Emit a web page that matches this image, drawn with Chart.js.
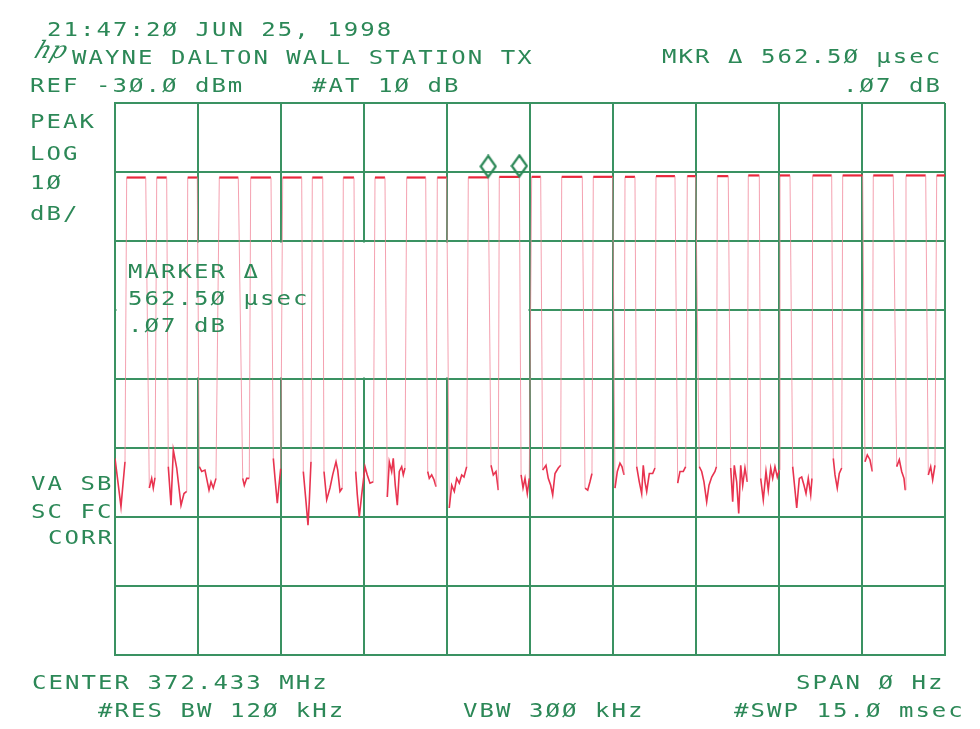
<!DOCTYPE html>
<html>
<head>
<meta charset="utf-8">
<title>Wayne Dalton Wall Station TX</title>
<script src="https://cdn.jsdelivr.net/npm/chart.js@4/dist/chart.umd.min.js"></script>
<style>
  body { margin: 0; background: #fff; }
  #wrap { position: relative; width: 980px; height: 729px; overflow: hidden; }
  #chart { position: absolute; left: 0; top: 0; }
  .lbl {
    position: absolute;
    font-family: "DejaVu Sans Mono", monospace;
    font-size: 20px;
    line-height: 20px;
    letter-spacing: 1.7px;
    color: #2c8857;
    white-space: pre;
    transform: scaleX(1.2);
    transform-origin: 0 0;
  }
  .logo {
    position: absolute;
    font-family: "DejaVu Serif", serif;
    font-style: italic;
    font-size: 24px;
    line-height: 24px;
    color: #2c8857;
    transform: skewX(-20deg);
  }
</style>
</head>
<body>
<div id="wrap">
  <canvas id="chart" width="980" height="729"></canvas>
</div>
<script>
// Trace: zero-span sweep, 15 ms over 10 divisions, REF -30 dBm, 10 dB/div
// Pulse edges (ms) and pulse top level (dBm)
const pulseRise = [0.211, 0.754, 1.314, 1.885, 2.452, 3.031, 3.566, 4.126, 4.699,
                   5.272, 5.825, 6.385, 6.945, 7.530, 8.073, 8.644, 9.217, 9.777,
                   10.343, 10.885, 11.445, 12.018, 12.609, 13.151, 13.704, 14.295, 14.850];
const pulseFall = [0.555, 0.934, 1.487, 2.228, 2.819, 3.374, 3.754, 4.319, 4.879,
                   5.615, 5.994, 6.745, 7.3075, 7.693, 8.445, 8.994, 9.397, 10.120,
                   10.494, 11.083, 11.644, 12.199, 12.952, 13.512, 14.065, 14.651, 15.0];
const pulseTop = [-40.8, -40.8, -40.8, -40.8, -40.8, -40.8, -40.8, -40.8, -40.8,
                  -40.8, -40.8, -40.78, -40.71, -40.7, -40.7, -40.7, -40.7, -40.6,
                  -40.6, -40.6, -40.5, -40.5, -40.5, -40.5, -40.5, -40.5, -40.5];

// Noise floor between pulses (ms, dBm), one line per gap
const noiseMs = [
  0.000, 0.108, 0.181,
  0.620, 0.663, 0.692, 0.723,
  0.963, 1.012, 1.054, 1.115, 1.193, 1.247, 1.296,
  1.523, 1.567, 1.626, 1.699, 1.735, 1.776, 1.825,
  2.308, 2.337, 2.380, 2.427,
  2.861, 2.892, 2.933, 2.964, 2.995,
  3.403, 3.452, 3.488, 3.511, 3.542,
  3.777, 3.826, 3.885, 3.934, 3.994, 4.025, 4.066, 4.108,
  4.350, 4.379, 4.415, 4.458, 4.518, 4.559, 4.608, 4.668,
  4.921, 4.957, 5.000, 5.029, 5.065, 5.102, 5.138, 5.181, 5.210, 5.241,
  5.651, 5.680, 5.723, 5.765, 5.801,
  6.041, 6.085, 6.132, 6.175, 6.222, 6.266, 6.307, 6.356,
  6.795, 6.837, 6.885, 6.927,
  7.339, 7.374, 7.410, 7.451, 7.487,
  7.729, 7.789, 7.830, 7.874, 7.910, 7.952, 8.011, 8.055,
  8.494, 8.543, 8.584, 8.620,
  9.036, 9.078, 9.126, 9.162, 9.199,
  9.428, 9.475, 9.518, 9.547, 9.578, 9.609, 9.656, 9.717, 9.759,
  10.169, 10.211, 10.270, 10.314,
  10.559, 10.603, 10.644, 10.693, 10.735, 10.784, 10.843, 10.870,
  11.127, 11.163, 11.192, 11.235, 11.272, 11.308, 11.344, 11.385, 11.427,
  11.669, 11.716, 11.765, 11.806, 11.850, 11.886, 11.927, 11.969, 12.005,
  12.247, 12.289, 12.320, 12.367, 12.410, 12.452, 12.488, 12.529, 12.573, 12.596,
  12.981, 13.012, 13.053, 13.089, 13.133,
  13.554, 13.596, 13.644, 13.686,
  14.127, 14.174, 14.217, 14.259, 14.282,
  14.698, 14.741, 14.777, 14.819
];
const noiseDbm = [
  -81.5, -88.5, -82.0,
  -85.8, -84.4, -85.8, -84.3,
  -82.7, -88.3, -80.3, -82.9, -88.3, -86.6, -86.3,
  -82.7, -83.4, -83.2, -86.1, -84.9, -85.8, -84.4,
  -84.4, -85.4, -84.4, -84.4,
  -81.5, -84.4, -88.0, -85.4, -83.0,
  -83.4, -87.8, -91.2, -87.8, -82.0,
  -83.4, -87.5, -85.8, -83.9, -82.0, -83.2, -86.3, -85.8,
  -83.4, -86.8, -90.0, -86.8, -82.7, -83.9, -85.1, -84.9,
  -87.1, -82.0, -83.4, -81.5, -85.4, -88.3, -83.4, -82.7, -83.9, -82.9,
  -83.4, -84.4, -83.9, -84.6, -85.6,
  -88.7, -85.4, -86.3, -84.4, -85.1, -83.9, -84.2, -82.7,
  -82.5, -83.9, -83.4, -86.1,
  -83.9, -85.8, -84.4, -86.6, -84.4,
  -83.2, -82.5, -84.4, -85.4, -86.8, -83.7, -82.9, -82.5,
  -85.8, -86.1, -84.9, -83.7,
  -85.8, -83.4, -82.2, -82.7, -83.9,
  -82.7, -84.9, -86.6, -82.5, -84.9, -86.3, -83.7, -83.7, -82.9,
  -85.1, -83.4, -83.4, -82.7,
  -82.7, -83.4, -84.9, -87.8, -85.4, -84.2, -83.4, -82.7,
  -82.9, -87.8, -82.5, -84.9, -89.5, -82.5, -85.4, -82.9, -84.9,
  -84.4, -87.5, -83.4, -86.1, -82.9, -84.4, -82.7, -84.2, -83.2,
  -82.7, -86.1, -88.7, -84.4, -84.2, -85.4, -86.6, -84.4, -86.8, -84.4,
  -81.5, -83.9, -85.8, -83.7, -82.9,
  -82.0, -81.0, -81.7, -83.4,
  -82.7, -81.7, -83.4, -84.4, -86.1,
  -83.9, -82.7, -84.6, -82.5
];

// Delta markers (ms, dBm)
const markerMs = [6.745, 7.3075];
const markerDbm = [-40.78, -40.71];

const GREEN = '#2c8857';
const GRID = '#3a9262';

// Texts printed around the graticule: [text, left px, cap top px]
const labels = [
  ['21:47:2Ø JUN 25, 1998', 47, 21],
  ['WAYNE DALTON WALL STATION TX', 72, 49],
  ['MKR Δ 562.5Ø µsec', 662, 48],
  ['REF -3Ø.Ø dBm', 30, 77],
  ['#AT 1Ø dB', 312, 77],
  ['.Ø7 dB', 843, 77],
  ['PEAK', 30, 113],
  ['LOG', 30, 145],
  ['1Ø', 30, 174],
  ['dB/', 30, 205],
  ['MARKER Δ', 128, 263],
  ['562.5Ø µsec', 128, 290],
  ['.Ø7 dB', 128, 317],
  ['VA SB', 31, 475],
  ['SC FC', 31, 503],
  ['CORR', 48, 529],
  ['CENTER 372.433 MHz', 32, 674],
  ['SPAN Ø Hz', 796, 674],
  ['#RES BW 12Ø kHz', 98, 702],
  ['VBW 3ØØ kHz', 463, 702],
  ['#SWP 15.Ø msec', 734, 702]
];

document.addEventListener('DOMContentLoaded', function () {
    const wrap = document.getElementById('wrap');

    // textos em volta do gráfico
    labels.forEach(function (l) {
        const d = document.createElement('div');
        d.className = 'lbl';
        d.textContent = l[0];
        d.style.left = l[1] + 'px';
        d.style.top = (l[2] - 2.3) + 'px';
        wrap.appendChild(d);
    });
    const logo = document.createElement('div');
    logo.className = 'logo';
    logo.textContent = 'hp';
    logo.style.left = '36px';
    logo.style.top = '38px';
    wrap.appendChild(logo);

    // monta o traço: topos dos pulsos + ruído, em ordem de tempo
    const trace = [];
    pulseRise.forEach((t, i) => {
        trace.push({ x: t, y: pulseTop[i] });
        trace.push({ x: pulseFall[i], y: pulseTop[i] });
    });
    noiseMs.forEach((t, i) => trace.push({ x: t, y: noiseDbm[i] }));
    trace.sort((a, b) => a.x - b.x);

    const markers = markerMs.map((t, i) => ({ x: t, y: markerDbm[i] }));

    // losango do marcador, desenhado acima do ponto
    const diamond = document.createElement('canvas');
    diamond.width = 18;
    diamond.height = 46;
    const dc = diamond.getContext('2d');
    dc.strokeStyle = GREEN;
    dc.lineWidth = 2.2;
    dc.beginPath();
    dc.moveTo(9, 1.5);
    dc.lineTo(16.5, 12);
    dc.lineTo(9, 22.5);
    dc.lineTo(1.5, 12);
    dc.closePath();
    dc.stroke();

    // apaga a graticula atrás do bloco de texto do marcador
    const blankPlugin = {
        id: 'blankAnnotation',
        beforeDatasetsDraw(chart) {
            const x = chart.scales.x, y = chart.scales.y;
            const left = x.getPixelForValue(0) + 1.5;
            const right = x.getPixelForValue(7.5) - 1.5;
            const top = y.getPixelForValue(-50) + 1.5;
            const bottom = y.getPixelForValue(-70) - 1.5;
            chart.ctx.save();
            chart.ctx.fillStyle = '#fff';
            chart.ctx.fillRect(left, top, right - left, bottom - top);
            chart.ctx.restore();
        }
    };

    // segmento de borda (sobe/desce do pulso) = traço fino e claro
    const edge = ctx => {
        const a = trace[ctx.p0DataIndex], b = trace[ctx.p1DataIndex];
        return (a.y > -60) !== (b.y > -60);
    };
    const top = ctx => trace[ctx.p0DataIndex].y > -60 && trace[ctx.p1DataIndex].y > -60;

    new Chart(document.getElementById('chart'), {
        type: 'line',
        data: {
            datasets: [{
                label: 'Trace',
                data: trace,
                borderColor: '#e8334f',
                borderWidth: 1.6,
                pointRadius: 0,
                tension: 0,
                order: 2,
                segment: {
                    borderColor: ctx => edge(ctx) ? 'rgba(240,130,150,0.75)' : (top(ctx) ? '#e8283c' : undefined),
                    borderWidth: ctx => edge(ctx) ? 1 : (top(ctx) ? 2.2 : undefined)
                }
            }, {
                label: 'Markers',
                data: markers,
                showLine: false,
                pointStyle: diamond,
                pointRadius: 10,
                order: 1
            }]
        },
        options: {
            responsive: false,
            animation: false,
            devicePixelRatio: 1,
            layout: { padding: { left: 115, right: 35, top: 103, bottom: 74 } },
            plugins: { legend: { display: false }, tooltip: { enabled: false } },
            scales: {
                x: {
                    type: 'linear',
                    min: 0,
                    max: 15,
                    afterFit: s => { s.height = 0; },
                    ticks: { display: false, stepSize: 1.5 },
                    grid: { color: GRID, lineWidth: 2, drawTicks: false },
                    border: { display: true, color: GRID, width: 2 }
                },
                y: {
                    type: 'linear',
                    min: -110,
                    max: -30,
                    afterFit: s => { s.width = 0; },
                    ticks: { display: false, stepSize: 10 },
                    grid: { color: GRID, lineWidth: 2, drawTicks: false },
                    border: { display: true, color: GRID, width: 2 }
                }
            }
        },
        plugins: [blankPlugin]
    });
});
</script>
</body>
</html>
